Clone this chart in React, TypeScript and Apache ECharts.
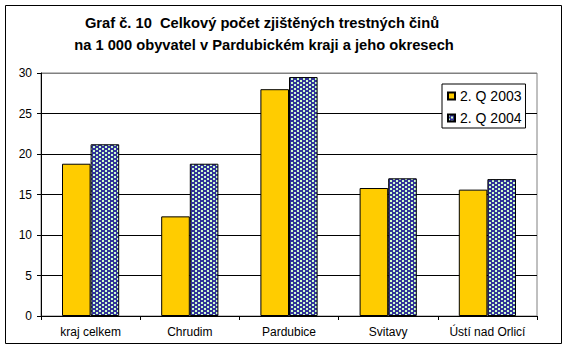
import React, { useEffect, useRef } from "react";
import * as echarts from "echarts";

const categories = ["kraj celkem", "Chrudim", "Pardubice", "Svitavy", "Ústí nad Orlicí"];
const seriesNames = ["2. Q 2003", "2. Q 2004"];
const values2003 = [18.8, 12.3, 28.0, 15.8, 15.6];
const values2004 = [21.2, 18.8, 29.5, 17.0, 16.9];
const titleLines = [
  "Graf č. 10  Celkový počet zjištěných trestných činů",
  "na 1 000 obyvatel v Pardubickém kraji a jeho okresech",
];

function makePattern(): string {
  const c = document.createElement("canvas");
  c.width = 6;
  c.height = 4;
  const ctx = c.getContext("2d")!;
  ctx.fillStyle = "#333399";
  ctx.fillRect(0, 0, 6, 4);
  ctx.fillStyle = "#ccffcc";
  ctx.fillRect(0, 0, 2, 2);
  ctx.fillRect(3, 2, 2, 2);
  return c.toDataURL();
}

export default function App() {
  const ref = useRef<HTMLDivElement>(null);
  useEffect(() => {
    const chart = echarts.init(ref.current!, null, { renderer: "svg" });
    const pattern = { image: makePattern(), repeat: "repeat" as const };
    const font = "Liberation Sans, Arial, sans-serif";
    chart.setOption({
      animation: false,
      textStyle: { fontFamily: font },
      graphic: [
        {
          type: "rect",
          shape: { x: 5.5, y: 5.5, width: 556, height: 338 },
          style: { fill: "none", stroke: "#000", lineWidth: 1 },
          z: 0,
        },
        {
          type: "text",
          x: 262,
          y: 23,
          style: {
            text: titleLines[0],
            fill: "#000",
            font: "bold 14.7px Liberation Sans, Arial, sans-serif",
            textAlign: "center",
            textVerticalAlign: "middle",
          },
        },
        {
          type: "text",
          x: 264,
          y: 45,
          style: {
            text: titleLines[1],
            fill: "#000",
            font: "bold 14.7px Liberation Sans, Arial, sans-serif",
            textAlign: "center",
            textVerticalAlign: "middle",
          },
        },
      ],
      legend: {
        orient: "vertical",
        left: 442,
        top: 84,
        padding: [4, 4, 2, 5],
        itemGap: 6,
        itemWidth: 7,
        itemHeight: 7,
        itemTextGap: 7,
        icon: "rect",
        borderColor: "#000",
        borderWidth: 1,
        backgroundColor: "#fff",
        textStyle: { fontSize: 14, color: "#000", lineHeight: 16, fontFamily: font },
        data: seriesNames,
      },
      grid: {
        left: 41,
        top: 73,
        right: 31,
        bottom: 35,
        show: true,
        borderColor: "#808080",
        borderWidth: 1,
        backgroundColor: "#fff",
      },
      xAxis: {
        type: "category",
        data: categories,
        axisLine: { lineStyle: { color: "#000", width: 1 } },
        axisTick: { show: true, length: 4, inside: false, lineStyle: { color: "#000" } },
        axisLabel: { color: "#000", fontSize: 12, margin: 10, fontFamily: font },
      },
      yAxis: {
        type: "value",
        min: 0,
        max: 30,
        interval: 5,
        axisLine: { show: true, lineStyle: { color: "#000", width: 1 } },
        axisTick: { show: true, length: 4, inside: false, lineStyle: { color: "#000" } },
        axisLabel: { color: "#000", fontSize: 12, margin: 9, fontFamily: font },
        splitLine: {
          show: true,
          lineStyle: { color: ["#000", "#000", "#000", "#000", "#000", "#000", "#808080"], width: 1 },
        },
      },
      series: [
        {
          name: seriesNames[0],
          type: "bar",
          data: values2003,
          barWidth: 28.6,
          barGap: "0%",
          itemStyle: { color: "#ffcc00", borderColor: "#000", borderWidth: 1 },
        },
        {
          name: seriesNames[1],
          type: "bar",
          data: values2004,
          barWidth: 28.6,
          barGap: "0%",
          itemStyle: { color: pattern, borderColor: "#000", borderWidth: 1 },
        },
      ],
    });
    return () => chart.dispose();
  }, []);
  return <div ref={ref} style={{ width: 568, height: 351, position: "absolute", left: 0, top: 0, background: "#fff" }} />;
}
